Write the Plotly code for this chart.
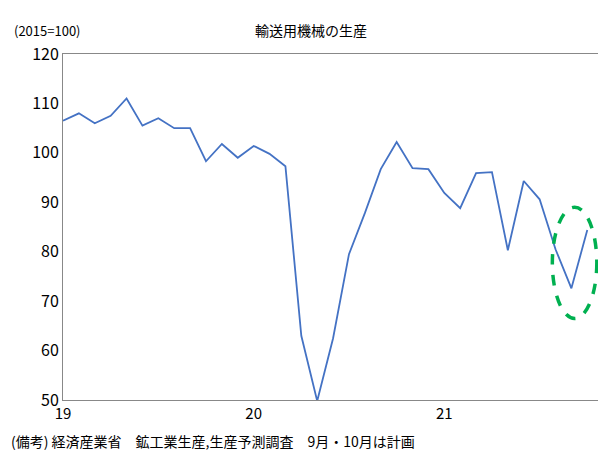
import plotly.graph_objects as go

values = [106.5,108,106,107.5,111,105.5,107,105,105,98.3,101.8,99,
          101.4,99.8,97.3,63,49.8,62.5,79.5,87.8,96.7,102.2,96.9,96.7,
          91.9,88.8,95.9,96.1,80.3,94.3,90.6,80.5,72.6,84.4]
tick_pos = [0, 12, 24]
tick_text = ["19", "20", "21"]
x = list(range(len(values)))

font = "Noto Sans CJK JP"
fig = go.Figure(go.Scatter(x=x, y=values, mode="lines",
                           line=dict(color="#4472C4", width=1.8)))
fig.add_shape(type="circle", xref="x", yref="y", x0=30.8, x1=33.6, y0=66.5, y1=89.0,
              line=dict(color="#00B050", width=3.5, dash="dash"))
fig.update_layout(
    width=606, height=464, plot_bgcolor="white", paper_bgcolor="white",
    margin=dict(l=55, r=14, t=46, b=72, autoexpand=False), showlegend=False,
    font=dict(family=font, size=14, color="black"),
    title=dict(text="輸送用機械の生産", x=0.5, xanchor="center", y=0.96, font=dict(size=14)),
    xaxis=dict(range=[0, 33.8], tickvals=tick_pos, ticktext=tick_text, showgrid=False,
               showline=True, linecolor="#888", mirror=True, ticks="", zeroline=False,
               tickfont=dict(size=15)),
    yaxis=dict(range=[50, 120], dtick=10, showgrid=False, showline=True, linecolor="#888",
               mirror=True, ticks="", zeroline=False, tickfont=dict(size=16)),
    annotations=[
        dict(text="(2015=100)", xref="paper", yref="paper", x=-0.095, y=1.035,
             xanchor="left", yanchor="bottom", showarrow=False, font=dict(size=13)),
        dict(text="(備考) 経済産業省　鉱工業生産,生産予測調査　9月・10月は計画", xref="paper", yref="paper",
             x=-0.1, y=-0.085, xanchor="left", yanchor="top", showarrow=False, font=dict(size=14)),
    ],
)
fig.write_html("out.html")
